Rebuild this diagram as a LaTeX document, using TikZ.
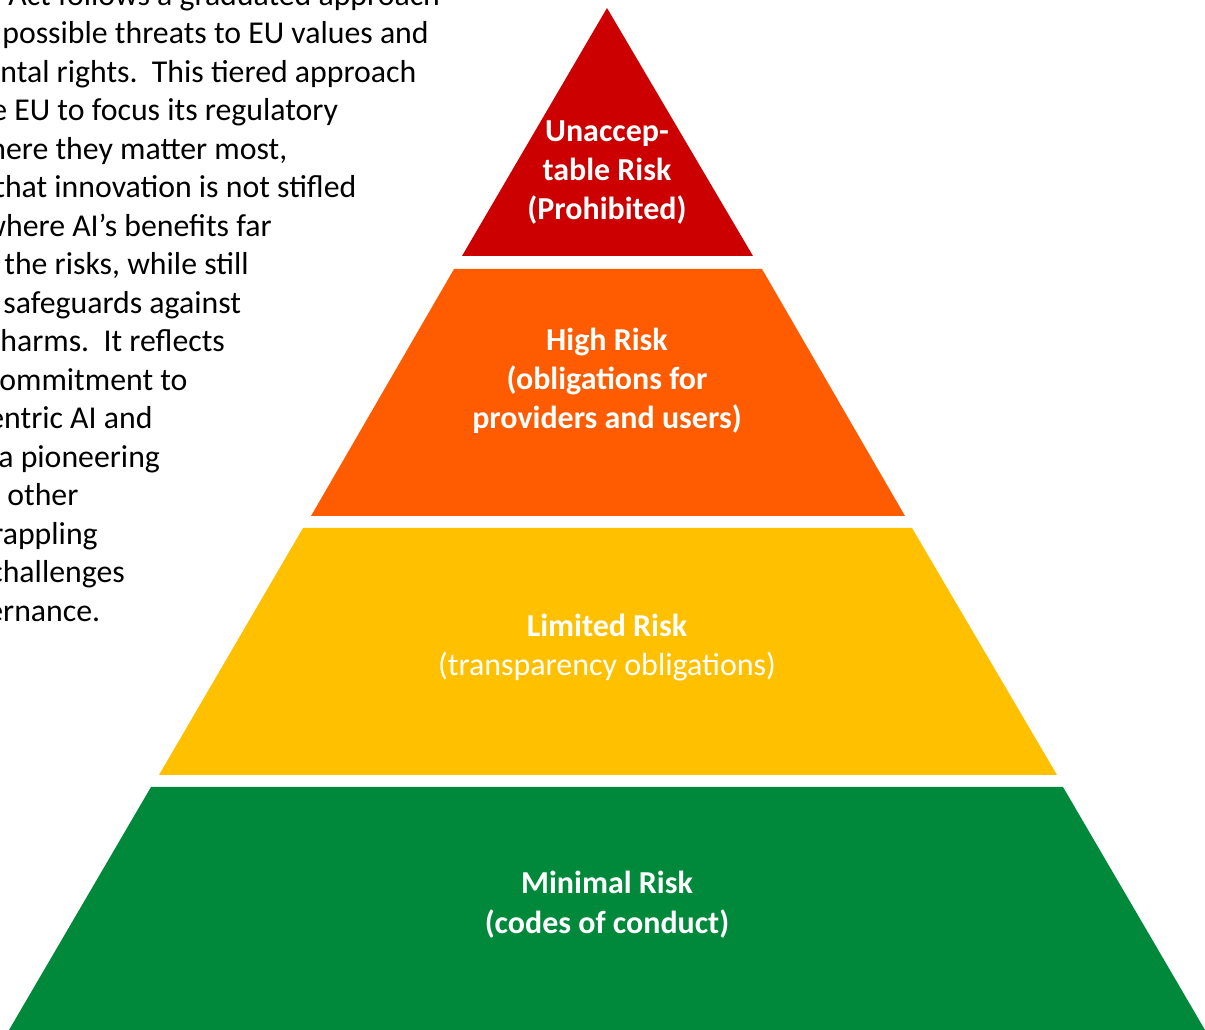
\documentclass[tikz,border=0pt]{standalone}
\usepackage{fontspec}
\setmainfont{Carlito}

\definecolor{riskred}{RGB}{204,0,0}
\definecolor{riskorange}{RGB}{255,91,0}
\definecolor{riskyellow}{RGB}{255,192,0}
\definecolor{riskgreen}{RGB}{0,137,58}

\begin{document}
\begin{tikzpicture}[x=0.02cm,y=-0.02cm,
  tier/.style={anchor=base,align=center,inner sep=0pt,text=white,
    font=\fontsize{18.2}{22.2}\selectfont},
  para/.style={anchor=base west,inner sep=0pt,
    font=\fontsize{18.1}{21.9}\selectfont}]
\useasboundingbox (0,0) rectangle (1205,1030);
\clip (0,0) rectangle (1205,1030);
%\draw [lightgray] (0,0) grid [step=100] (1205,1030);

\fill [riskred]    (607,8)   -- (753,256)  -- (462,256)  -- cycle; % Unacceptable
\fill [riskorange] (454,269) -- (762,269)  -- (905,516)  -- (311,516) -- cycle; % High
\fill [riskyellow] (303,528) -- (912,528)  -- (1057,775) -- (159,775) -- cycle; % Limited
\fill [riskgreen]  (151,787) -- (1063,787) -- (1205,1030) -- (9,1030) -- cycle; % Minimal

% base = baseline of the last line
\node [tier] (unacc) at (607,220) {\bfseries Unaccep-\\\bfseries table Risk\\\bfseries (Prohibited)};
\node [tier] (high) at (607,429) {\bfseries High Risk\\\bfseries (obligations for\\\bfseries providers and users)};
\node [tier] (limited) at (607,676) {\bfseries Limited Risk\\(transparency obligations)};
\node [tier] (minimal) at (607,933) {\bfseries Minimal Risk\\\bfseries (codes of conduct)};

% text beside the pyramid
\node [para] (l1)  at (8,5.5)    {Act follows a graduated approach};
\node [para] (l2)  at (2,44)     {possible threats to EU values and};
\node [para] (l3)  at (0,82.5)   {ntal rights.\ \ This tiered approach};
\node [para] (l4)  at (-9,121)   {e EU to focus its regulatory};
\node [para] (l5)  at (-11,159.5){here they matter most,};
\node [para] (l6)  at (-6,198)   {that innovation is not stifled};
\node [para] (l7)  at (-17,236.5){where AI’s benefits far};
\node [para] (l8)  at (4,275)    {the risks, while still};
\node [para] (l9)  at (3,313.5)  {safeguards against};
\node [para] (l10) at (0,352)    {harms.\ \ It reflects};
\node [para] (l11) at (-1,390.5) {ommitment to};
\node [para] (l12) at (-12,429)  {entric AI and};
\node [para] (l13) at (-2,467.5) {a pioneering};
\node [para] (l14) at (7,506)    {other};
\node [para] (l15) at (-8,544.5) {rappling};
\node [para] (l16) at (-11,583)  {challenges};
\node [para] (l17) at (-13,621.5){ernance.};

\end{tikzpicture}
\end{document}
